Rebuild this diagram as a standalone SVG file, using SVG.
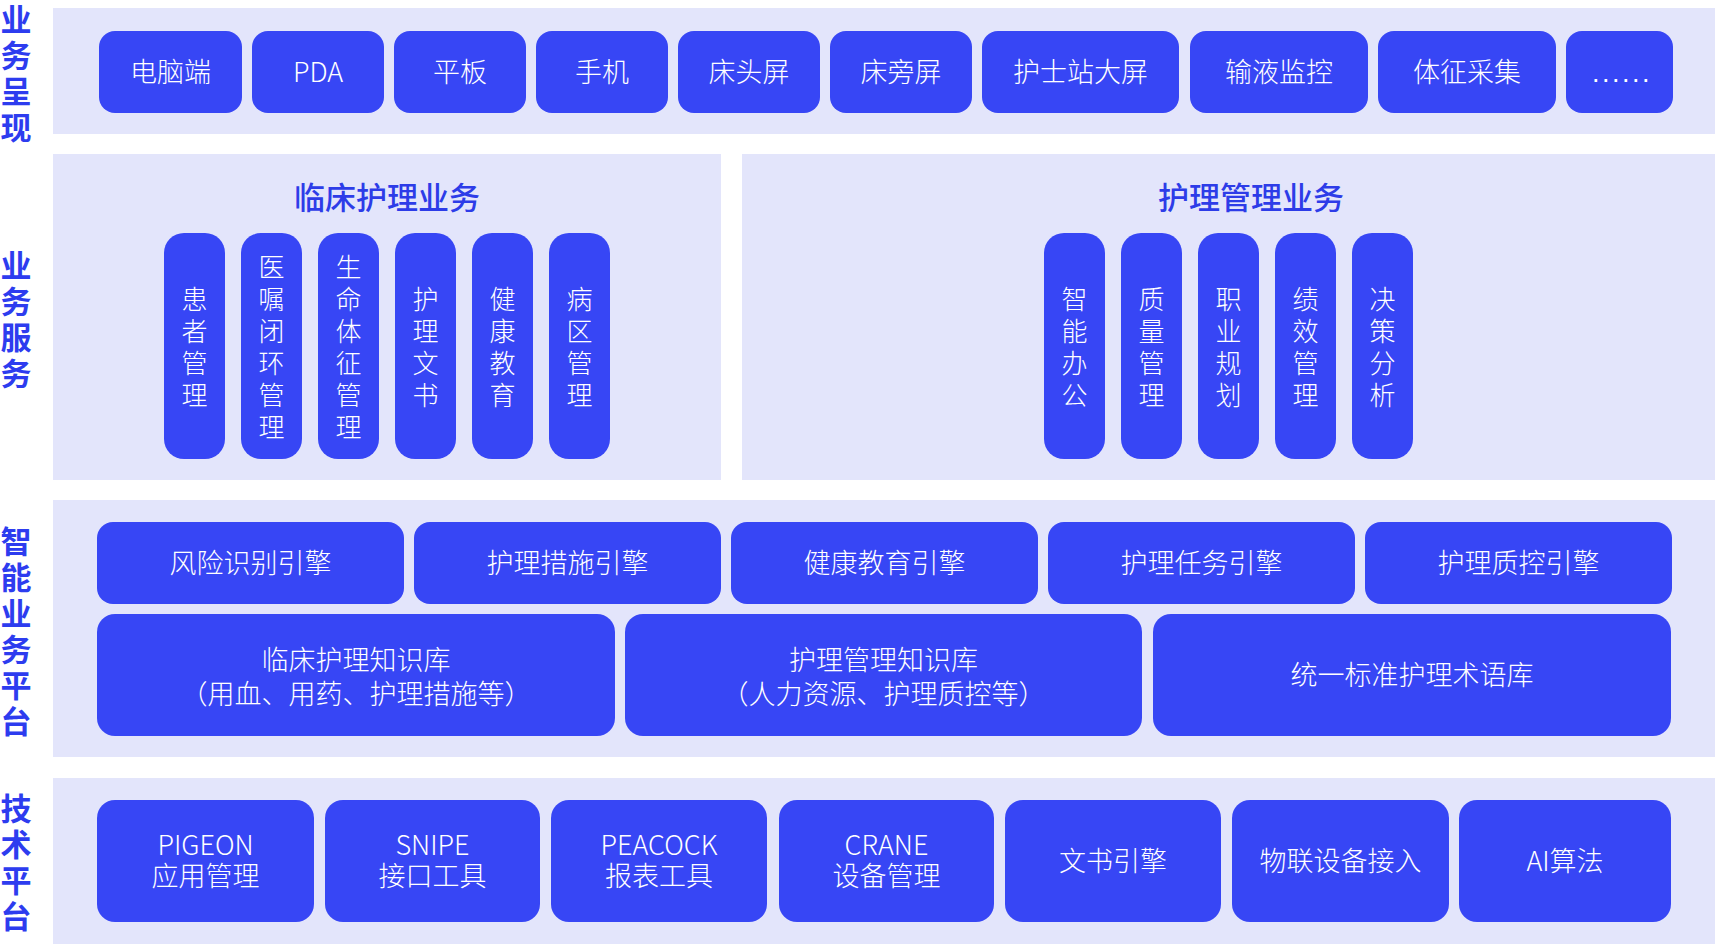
<svg xmlns="http://www.w3.org/2000/svg" width="1715" height="944" viewBox="0 0 1715 944">
<style>
.panel{fill:#e3e5fb}
.btn{fill:#3746f5}
.t{font-family:"Noto Sans CJK SC","Noto Sans",sans-serif;fill:#ffffff;font-size:27px;font-weight:300;text-anchor:middle}
.v{font-family:"Noto Sans CJK SC","Noto Sans",sans-serif;fill:#ffffff;font-size:26px;font-weight:300;text-anchor:middle}
.dots{font-family:"Liberation Sans",sans-serif;fill:#ffffff;font-size:27px;letter-spacing:2.5px;text-anchor:middle}
.lbl{font-family:"Noto Sans CJK SC",sans-serif;fill:#2d3cef;font-size:31px;font-weight:bold;text-anchor:middle}
.ttl{font-family:"Noto Sans CJK SC",sans-serif;fill:#2d3ce8;font-size:31px;font-weight:500;text-anchor:middle}
</style>
<rect width="1715" height="944" fill="#ffffff"/>

<g id="panels">
<rect class="panel" x="53" y="8" width="1662" height="126"/>
<rect class="panel" x="53" y="154" width="668" height="326"/>
<rect class="panel" x="742" y="154" width="973" height="326"/>
<rect class="panel" x="53" y="500" width="1662" height="257"/>
<rect class="panel" x="53" y="778" width="1662" height="166"/>
</g>

<g id="layer-labels">
<text class="lbl" x="16"><tspan x="16" y="31">业</tspan><tspan x="16" y="67">务</tspan><tspan x="16" y="103">呈</tspan><tspan x="16" y="139">现</tspan></text>
<text class="lbl" x="16"><tspan x="16" y="277">业</tspan><tspan x="16" y="313">务</tspan><tspan x="16" y="349">服</tspan><tspan x="16" y="385">务</tspan></text>
<text class="lbl" x="16"><tspan x="16" y="553">智</tspan><tspan x="16" y="589">能</tspan><tspan x="16" y="625">业</tspan><tspan x="16" y="661">务</tspan><tspan x="16" y="697">平</tspan><tspan x="16" y="733">台</tspan></text>
<text class="lbl" x="16"><tspan x="16" y="820">技</tspan><tspan x="16" y="856">术</tspan><tspan x="16" y="892">平</tspan><tspan x="16" y="928">台</tspan></text>
</g>

<g id="presentation">
<g id="p1"><rect class="btn" x="99" y="31" width="143" height="82" rx="16"/><text class="t" x="170.5" y="82">电脑端</text></g>
<g id="p2"><rect class="btn" x="252" y="31" width="132" height="82" rx="16"/><text class="t" x="318" y="82">PDA</text></g>
<g id="p3"><rect class="btn" x="394" y="31" width="132" height="82" rx="16"/><text class="t" x="460" y="82">平板</text></g>
<g id="p4"><rect class="btn" x="536" y="31" width="132" height="82" rx="16"/><text class="t" x="602" y="82">手机</text></g>
<g id="p5"><rect class="btn" x="678" y="31" width="142" height="82" rx="16"/><text class="t" x="749" y="82">床头屏</text></g>
<g id="p6"><rect class="btn" x="830" y="31" width="142" height="82" rx="16"/><text class="t" x="901" y="82">床旁屏</text></g>
<g id="p7"><rect class="btn" x="982" y="31" width="197" height="82" rx="16"/><text class="t" x="1080.5" y="82">护士站大屏</text></g>
<g id="p8"><rect class="btn" x="1190" y="31" width="178" height="82" rx="16"/><text class="t" x="1279" y="82">输液监控</text></g>
<g id="p9"><rect class="btn" x="1378" y="31" width="178" height="82" rx="16"/><text class="t" x="1467" y="82">体征采集</text></g>
<g id="p10"><rect class="btn" x="1566" y="31" width="107" height="82" rx="16"/><text class="dots" x="1622" y="82">......</text></g>
</g>

<g id="clinical">
<text class="ttl" x="387" y="209">临床护理业务</text>
<g id="c1"><rect class="btn" x="164" y="233" width="61" height="226" rx="20"/><text class="v"><tspan x="194.5" y="309">患</tspan><tspan x="194.5" y="341">者</tspan><tspan x="194.5" y="373">管</tspan><tspan x="194.5" y="405">理</tspan></text></g>
<g id="c2"><rect class="btn" x="241" y="233" width="61" height="226" rx="20"/><text class="v"><tspan x="271.5" y="277">医</tspan><tspan x="271.5" y="309">嘱</tspan><tspan x="271.5" y="341">闭</tspan><tspan x="271.5" y="373">环</tspan><tspan x="271.5" y="405">管</tspan><tspan x="271.5" y="437">理</tspan></text></g>
<g id="c3"><rect class="btn" x="318" y="233" width="61" height="226" rx="20"/><text class="v"><tspan x="348.5" y="277">生</tspan><tspan x="348.5" y="309">命</tspan><tspan x="348.5" y="341">体</tspan><tspan x="348.5" y="373">征</tspan><tspan x="348.5" y="405">管</tspan><tspan x="348.5" y="437">理</tspan></text></g>
<g id="c4"><rect class="btn" x="395" y="233" width="61" height="226" rx="20"/><text class="v"><tspan x="425.5" y="309">护</tspan><tspan x="425.5" y="341">理</tspan><tspan x="425.5" y="373">文</tspan><tspan x="425.5" y="405">书</tspan></text></g>
<g id="c5"><rect class="btn" x="472" y="233" width="61" height="226" rx="20"/><text class="v"><tspan x="502.5" y="309">健</tspan><tspan x="502.5" y="341">康</tspan><tspan x="502.5" y="373">教</tspan><tspan x="502.5" y="405">育</tspan></text></g>
<g id="c6"><rect class="btn" x="549" y="233" width="61" height="226" rx="20"/><text class="v"><tspan x="579.5" y="309">病</tspan><tspan x="579.5" y="341">区</tspan><tspan x="579.5" y="373">管</tspan><tspan x="579.5" y="405">理</tspan></text></g>
</g>

<g id="management">
<text class="ttl" x="1251" y="209">护理管理业务</text>
<g id="m1"><rect class="btn" x="1044" y="233" width="61" height="226" rx="20"/><text class="v"><tspan x="1074.5" y="309">智</tspan><tspan x="1074.5" y="341">能</tspan><tspan x="1074.5" y="373">办</tspan><tspan x="1074.5" y="405">公</tspan></text></g>
<g id="m2"><rect class="btn" x="1121" y="233" width="61" height="226" rx="20"/><text class="v"><tspan x="1151.5" y="309">质</tspan><tspan x="1151.5" y="341">量</tspan><tspan x="1151.5" y="373">管</tspan><tspan x="1151.5" y="405">理</tspan></text></g>
<g id="m3"><rect class="btn" x="1198" y="233" width="61" height="226" rx="20"/><text class="v"><tspan x="1228.5" y="309">职</tspan><tspan x="1228.5" y="341">业</tspan><tspan x="1228.5" y="373">规</tspan><tspan x="1228.5" y="405">划</tspan></text></g>
<g id="m4"><rect class="btn" x="1275" y="233" width="61" height="226" rx="20"/><text class="v"><tspan x="1305.5" y="309">绩</tspan><tspan x="1305.5" y="341">效</tspan><tspan x="1305.5" y="373">管</tspan><tspan x="1305.5" y="405">理</tspan></text></g>
<g id="m5"><rect class="btn" x="1352" y="233" width="61" height="226" rx="20"/><text class="v"><tspan x="1382.5" y="309">决</tspan><tspan x="1382.5" y="341">策</tspan><tspan x="1382.5" y="373">分</tspan><tspan x="1382.5" y="405">析</tspan></text></g>
</g>

<g id="engines">
<g id="e1"><rect class="btn" x="97" y="522" width="307" height="82" rx="16"/><text class="t" x="250.5" y="573">风险识别引擎</text></g>
<g id="e2"><rect class="btn" x="414" y="522" width="307" height="82" rx="16"/><text class="t" x="567.5" y="573">护理措施引擎</text></g>
<g id="e3"><rect class="btn" x="731" y="522" width="307" height="82" rx="16"/><text class="t" x="884.5" y="573">健康教育引擎</text></g>
<g id="e4"><rect class="btn" x="1048" y="522" width="307" height="82" rx="16"/><text class="t" x="1201.5" y="573">护理任务引擎</text></g>
<g id="e5"><rect class="btn" x="1365" y="522" width="307" height="82" rx="16"/><text class="t" x="1518.5" y="573">护理质控引擎</text></g>
</g>

<g id="knowledge">
<g id="k1"><rect class="btn" x="97" y="614" width="518" height="122" rx="18"/><text class="t"><tspan x="356" y="670">临床护理知识库</tspan><tspan x="356" y="704">（用血、用药、护理措施等）</tspan></text></g>
<g id="k2"><rect class="btn" x="625" y="614" width="517" height="122" rx="18"/><text class="t"><tspan x="883.5" y="670">护理管理知识库</tspan><tspan x="883.5" y="704">（人力资源、护理质控等）</tspan></text></g>
<g id="k3"><rect class="btn" x="1153" y="614" width="518" height="122" rx="18"/><text class="t" x="1412" y="685">统一标准护理术语库</text></g>
</g>

<g id="tech">
<g id="t1"><rect class="btn" x="97" y="800" width="217" height="122" rx="18"/><text class="t"><tspan x="205.5" y="855">PIGEON</tspan><tspan x="205.5" y="886">应用管理</tspan></text></g>
<g id="t2"><rect class="btn" x="325" y="800" width="215" height="122" rx="18"/><text class="t"><tspan x="432.5" y="855">SNIPE</tspan><tspan x="432.5" y="886">接口工具</tspan></text></g>
<g id="t3"><rect class="btn" x="551" y="800" width="216" height="122" rx="18"/><text class="t"><tspan x="659" y="855">PEACOCK</tspan><tspan x="659" y="886">报表工具</tspan></text></g>
<g id="t4"><rect class="btn" x="779" y="800" width="215" height="122" rx="18"/><text class="t"><tspan x="886.5" y="855">CRANE</tspan><tspan x="886.5" y="886">设备管理</tspan></text></g>
<g id="t5"><rect class="btn" x="1005" y="800" width="216" height="122" rx="18"/><text class="t" x="1113" y="871">文书引擎</text></g>
<g id="t6"><rect class="btn" x="1232" y="800" width="217" height="122" rx="18"/><text class="t" x="1340.5" y="871">物联设备接入</text></g>
<g id="t7"><rect class="btn" x="1459" y="800" width="212" height="122" rx="18"/><text class="t" x="1565" y="871">AI算法</text></g>
</g>

<g id="connectors"></g>
</svg>
